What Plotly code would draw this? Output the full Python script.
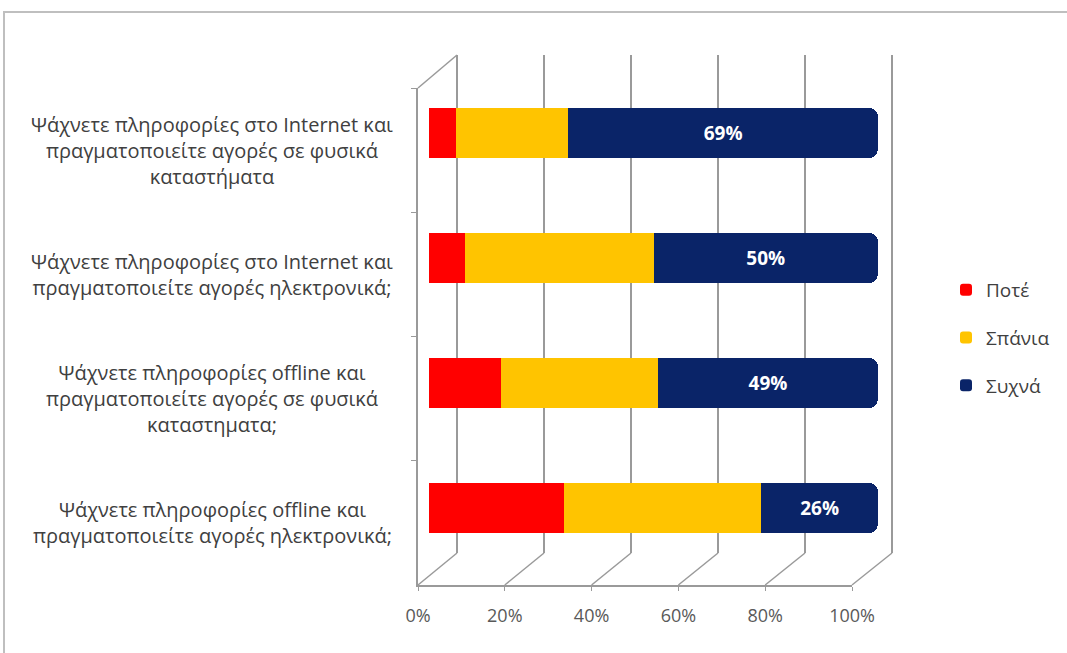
import plotly.graph_objects as go

W, H = 1067, 653

categories = [
    "Ψάχνετε πληροφορίες στο Internet και<br>πραγματοποιείτε αγορές σε φυσικά<br>καταστήματα",
    "Ψάχνετε πληροφορίες στο Internet και<br>πραγματοποιείτε αγορές ηλεκτρονικά;",
    "Ψάχνετε πληροφορίες offline και<br>πραγματοποιείτε αγορές σε φυσικά<br>καταστηματα;",
    "Ψάχνετε πληροφορίες offline και<br>πραγματοποιείτε αγορές ηλεκτρονικά;",
]
cat_ids = ["c1", "c2", "c3", "c4"]

series_names = ["Ποτέ", "Σπάνια", "Συχνά"]
pote = [6, 8, 16, 30]
spania = [25, 42, 35, 44]
sychna = [69, 50, 49, 26]

tick_vals = [0, 20, 40, 60, 80, 100]
tick_text = ["0%", "20%", "40%", "60%", "80%", "100%"]

colors = ["#ff0000", "#ffc400", "#0a2468"]

FONT = "Open Sans"
GRID = "#9a9a9a"
TXT = "#404040"


def fx(px):
    return px / W


def fy(py):
    return 1 - py / H


# pixel geometry of the pseudo-3D box
FRONT_L, FRONT_R, FRONT_TOP, FRONT_BOT = 418, 852, 88, 585
BACK_L, BACK_R, BACK_TOP, BACK_BOT = 457, 892, 55, 553
BAR_L, BAR_R = 429, 878
PAD = 0.5  # range padding so edge gridlines are drawn
back_pad_px = (BACK_R - BACK_L) * PAD / 100

fig = go.Figure()

# subplot 1 (drawn first, at the back): back wall gridlines
fig.add_trace(go.Scatter(x=[], y=[], xaxis="x", yaxis="y", showlegend=False))
# subplot 2: front axes (floor line, left wall, tick labels)
fig.add_trace(go.Scatter(x=[], y=[], xaxis="x2", yaxis="y2", showlegend=False))

# subplot 3 (drawn on top): bars
for name, vals, col in zip(series_names, [pote, spania, sychna], colors):
    is_last = name == series_names[-1]
    fig.add_trace(go.Bar(
        y=cat_ids, x=vals, orientation="h", name=name,
        xaxis="x3", yaxis="y3",
        marker=dict(color=col, line=dict(width=0)),
        text=[f"{v}%" for v in vals] if is_last else None,
        textposition="inside" if is_last else "none",
        insidetextanchor="middle",
        textfont=dict(family=FONT, size=19, color="white", weight="bold"),
        legendgroup=name,
        hoverinfo="skip",
    ))

fig.update_layout(
    width=W, height=H,
    margin=dict(l=0, r=0, t=0, b=0, autoexpand=False),
    paper_bgcolor="white", plot_bgcolor="rgba(0,0,0,0)",
    barmode="stack", bargap=0.6, barcornerradius=9,
    font=dict(family=FONT, color=TXT),
    # back wall
    xaxis=dict(domain=[fx(BACK_L - back_pad_px), fx(BACK_R + back_pad_px)],
               range=[-PAD, 100 + PAD], anchor="y",
               tickvals=tick_vals, showticklabels=False, ticks="", showgrid=True,
               gridcolor=GRID, gridwidth=1.5, zeroline=False, showline=False),
    yaxis=dict(domain=[fy(BACK_BOT), fy(BACK_TOP)], range=[0, 1], anchor="x",
               visible=False, showgrid=False),
    # front axes
    xaxis2=dict(domain=[fx(FRONT_L), fx(FRONT_R)], range=[0, 100], anchor="y2",
                tickvals=tick_vals, ticktext=tick_text, showgrid=False, zeroline=False,
                showline=True, linecolor=GRID, linewidth=1.5, ticks="outside", ticklen=4,
                tickcolor=GRID, ticklabelstandoff=10,
                tickfont=dict(family=FONT, size=18, color="#595959")),
    yaxis2=dict(domain=[fy(FRONT_BOT), fy(FRONT_TOP)], type="category",
                categoryorder="array", categoryarray=cat_ids, range=[3.5, -0.5],
                anchor="x2", showgrid=False, zeroline=False, showline=True,
                linecolor=GRID, linewidth=1.5, ticks="outside", ticklen=5,
                tickcolor=GRID, tickson="boundaries", showticklabels=False),
    # bars
    xaxis3=dict(domain=[fx(BAR_L), fx(BAR_R)], range=[0, 100], visible=False, anchor="y3"),
    yaxis3=dict(domain=[fy(570.5), fy(70.5)], type="category", categoryorder="array",
                categoryarray=cat_ids, range=[3.5, -0.5], visible=False, anchor="x3"),
    legend=dict(x=fx(946), y=fy(338), xanchor="left", yanchor="middle",
                traceorder="grouped", tracegroupgap=20,
                font=dict(family=FONT, size=19, color=TXT),
                itemwidth=30, bgcolor="rgba(0,0,0,0)"),
    showlegend=True,
)

# category labels centered to the left of the front wall
for cid, label in zip(cat_ids, categories):
    fig.add_annotation(x=fx(212), xref="paper", y=cid, yref="y2", text=label,
                       showarrow=False, align="center", xanchor="center",
                       yanchor="middle", font=dict(family=FONT, size=20, color=TXT))


def front_x(v):
    return FRONT_L + (FRONT_R - FRONT_L) * v / 100


def back_x(v):
    return BACK_L + (BACK_R - BACK_L) * v / 100


shapes = []
# floor depth lines
for v in tick_vals:
    shapes.append(dict(type="line", xref="paper", yref="paper", layer="below",
                       x0=fx(front_x(v)), y0=fy(FRONT_BOT), x1=fx(back_x(v)), y1=fy(BACK_BOT),
                       line=dict(color=GRID, width=1.5)))
# top-left wall edge
shapes.append(dict(type="line", xref="paper", yref="paper", layer="below",
                   x0=fx(FRONT_L), y0=fy(FRONT_TOP), x1=fx(BACK_L), y1=fy(BACK_TOP),
                   line=dict(color=GRID, width=1.5)))
# outer frame
shapes.append(dict(type="rect", xref="paper", yref="paper", layer="below",
                   x0=fx(4), y0=fy(12), x1=fx(1090), y1=fy(680),
                   line=dict(color="#bfbfbf", width=2)))
fig.update_layout(shapes=shapes)

fig.write_html("out.html")
